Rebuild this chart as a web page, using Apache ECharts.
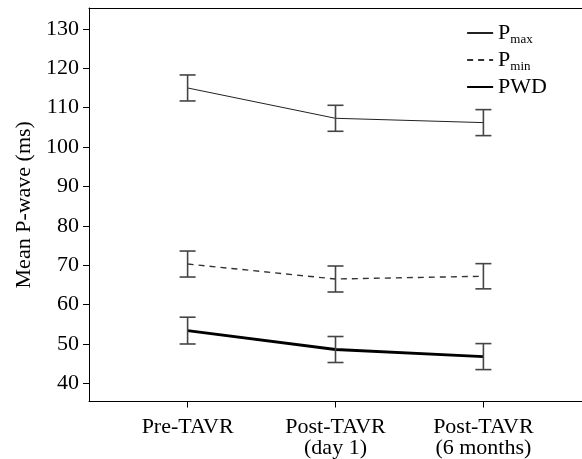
<!DOCTYPE html>
<html>
<head>
<meta charset="utf-8">
<script src="https://cdn.jsdelivr.net/npm/echarts@6/dist/echarts.min.js"></script>
<style>
  body { margin: 0; background: #fff; }
  #main { width: 582px; height: 459px; }
</style>
</head>
<body>
<div id="main"></div>
<script>
// time points
var categories = ['Pre-TAVR', 'Post-TAVR\n(day 1)', 'Post-TAVR\n(6 months)'];
var xPos = [1, 2, 3];
var yTicks = [40, 50, 60, 70, 80, 90, 100, 110, 120, 130];

// mean values (ms) and error bar half-widths
var pmaxMean = [115.0, 107.3, 106.2];
var pmaxErr = [3.3, 3.3, 3.3];
var pminMean = [70.3, 66.5, 67.2];
var pminErr = [3.3, 3.3, 3.2];
var pwdMean = [53.4, 48.6, 46.8];
var pwdErr = [3.4, 3.3, 3.3];

var font = 'Liberation Serif';

function lineData(mean) {
  return mean.map(function (v, i) { return [xPos[i], v]; });
}
function errData(mean, err) {
  return mean.map(function (v, i) { return [xPos[i], v - err[i], v + err[i]]; });
}

// error bars drawn through the axes
function errBar(params, api) {
  var lo = api.coord([api.value(0), api.value(1)]);
  var hi = api.coord([api.value(0), api.value(2)]);
  var w = 8;
  var st = { stroke: '#444', lineWidth: 1.6 };
  return {
    type: 'group',
    children: [
      { type: 'line', shape: { x1: lo[0], y1: lo[1], x2: hi[0], y2: hi[1] }, style: st },
      { type: 'line', shape: { x1: lo[0] - w, y1: lo[1], x2: lo[0] + w, y2: lo[1] }, style: st },
      { type: 'line', shape: { x1: hi[0] - w, y1: hi[1], x2: hi[0] + w, y2: hi[1] }, style: st }
    ]
  };
}

var option = {
  animation: false,
  backgroundColor: '#fff',
  grid: { left: 89, right: 0, top: 8, bottom: 56 },
  legend: {
    orient: 'vertical',
    right: 30,
    top: 17,
    itemWidth: 26,
    itemHeight: 12,
    itemGap: 3,
    itemStyle: { opacity: 0 },
    data: ['Pmax', 'Pmin', 'PWD'],
    formatter: function (name) {
      if (name === 'Pmax') return '{b|P}{s|max}';
      if (name === 'Pmin') return '{b|P}{s|min}';
      return '{b|PWD}';
    },
    textStyle: {
      fontFamily: font,
      color: '#000',
      rich: {
        b: { fontFamily: font, fontSize: 22, color: '#000', lineHeight: 26 },
        s: { fontFamily: font, fontSize: 13, color: '#000', lineHeight: 14, verticalAlign: 'bottom' }
      }
    }
  },
  xAxis: [
    {
      type: 'value',
      min: 1 / 3,
      max: 11 / 3,
      splitLine: { show: false },
      axisLine: { show: true, onZero: false, lineStyle: { color: '#000', width: 1 } },
      axisTick: { show: true, length: 6, customValues: xPos, lineStyle: { color: '#000' } },
      axisLabel: {
        customValues: xPos,
        margin: 15,
        fontFamily: font,
        fontSize: 22,
        lineHeight: 21,
        color: '#000',
        formatter: function (v) { return categories[Math.round(v) - 1] || ''; }
      }
    },
    {
      type: 'value',
      position: 'top',
      min: 1 / 3,
      max: 11 / 3,
      splitLine: { show: false },
      axisLine: { show: true, onZero: false, lineStyle: { color: '#000', width: 1 } },
      axisTick: { show: false },
      axisLabel: { show: false }
    }
  ],
  yAxis: {
    type: 'value',
    min: 35.4,
    max: 135.3,
    name: 'Mean P-wave (ms)',
    nameLocation: 'middle',
    nameGap: 52,
    nameTextStyle: { fontFamily: font, fontSize: 22, color: '#000' },
    splitLine: { show: false },
    axisLine: { show: true, onZero: false, lineStyle: { color: '#000', width: 1 } },
    axisTick: { show: true, length: 6, customValues: yTicks, lineStyle: { color: '#000' } },
    axisLabel: {
      customValues: yTicks,
      margin: 10,
      fontFamily: font,
      fontSize: 22,
      color: '#000'
    }
  },
  series: [
    {
      name: 'Pmax', type: 'line', symbol: 'none', data: lineData(pmaxMean),
      lineStyle: { color: '#222', width: 1 }, itemStyle: { color: '#222' }, z: 3
    },
    {
      name: 'Pmin', type: 'line', symbol: 'none', data: lineData(pminMean),
      lineStyle: { color: '#333', width: 1.4, type: [6, 5] }, itemStyle: { color: '#333' }, z: 3
    },
    {
      name: 'PWD', type: 'line', symbol: 'none', data: lineData(pwdMean),
      lineStyle: { color: '#000', width: 2.8 }, itemStyle: { color: '#000' }, z: 3
    },
    { type: 'custom', renderItem: errBar, data: errData(pmaxMean, pmaxErr), z: 4 },
    { type: 'custom', renderItem: errBar, data: errData(pminMean, pminErr), z: 4 },
    { type: 'custom', renderItem: errBar, data: errData(pwdMean, pwdErr), z: 4 }
  ]
};

var chart = echarts.init(document.getElementById('main'));
chart.setOption(option);
</script>
</body>
</html>
